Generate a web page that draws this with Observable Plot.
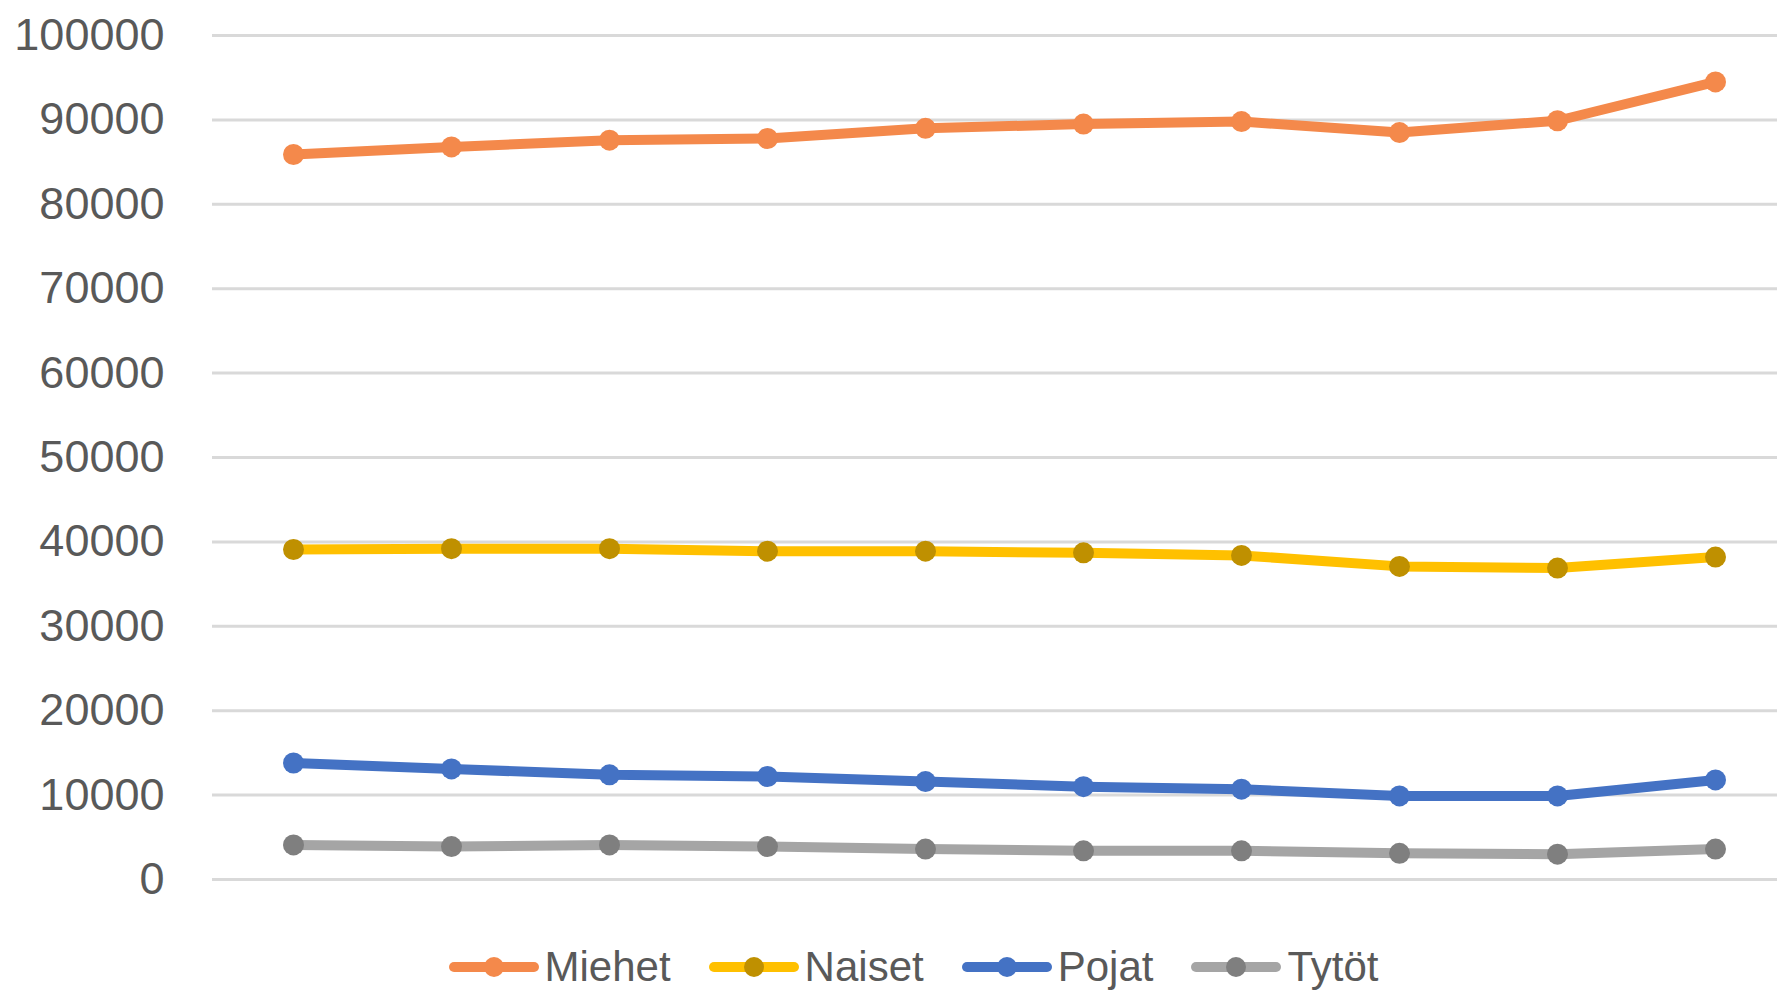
<!DOCTYPE html>
<html>
<head>
<meta charset="utf-8">
<script src="https://cdn.jsdelivr.net/npm/d3@7"></script>
<script src="https://cdn.jsdelivr.net/npm/@observablehq/plot@0.6"></script>
<style>
  html, body { margin: 0; padding: 0; background: #fff; }
  body { width: 1777px; height: 991px; overflow: hidden; font-family: "Liberation Sans", Arial, sans-serif; }
  #legend { display: flex; justify-content: center; align-items: center; height: 71px; padding-left: 88px; padding-top: 22px; box-sizing: border-box; }
  .item { display: flex; align-items: center; margin-right: 38px; }
  .item span { font-size: 42px; color: #595959; margin-left: 6px; }
</style>
</head>
<body>
<div id="chart"></div>
<div id="legend"></div>
<script>
const categories = ["2010","2011","2012","2013","2014","2015","2016","2017","2018","2019"];
const seriesNames = ["Miehet","Naiset","Pojat","Tytöt"];
const miehet = [85900, 86800, 87600, 87800, 89000, 89500, 89800, 88500, 89900, 94500];
const naiset = [39100, 39200, 39200, 38900, 38900, 38700, 38400, 37100, 36900, 38200];
const pojat  = [13800, 13100, 12400, 12200, 11600, 11000, 10700, 9900, 9900, 11800];
const tytot  = [4100, 3900, 4100, 3900, 3600, 3400, 3400, 3100, 3000, 3600];
const yTicks = [0,10000,20000,30000,40000,50000,60000,70000,80000,90000,100000];
const lineColors = ["#F4894B", "#FFC000", "#4472C4", "#A5A5A5"];
const dotColors  = ["#F4894B", "#BF9000", "#4472C4", "#7F7F7F"];

const valuesBySeries = [miehet, naiset, pojat, tytot];
const data = [];
seriesNames.forEach((s, i) => {
  categories.forEach((c, j) => data.push({series: s, cat: c, value: valuesBySeries[i][j]}));
});

const chart = Plot.plot({
  width: 1777,
  height: 920,
  marginTop: 35,
  marginBottom: 41,
  marginLeft: 212,
  marginRight: 0,
  x: {type: "point", domain: categories, range: [291, 1717], padding: 0, axis: null},
  y: {domain: [0, 100000], axis: null, label: null},
  color: {domain: seriesNames, range: lineColors},
  style: {fontFamily: "'Liberation Sans', Arial, sans-serif", background: "#fff", overflow: "visible"},
  marks: [
    Plot.ruleY(yTicks, {stroke: "#D9D9D9", strokeWidth: 3, strokeOpacity: 1}),
    Plot.axisY(yTicks, {tickSize: 0, tickPadding: 48, fontSize: 45, fill: "#595959", label: null, tickFormat: d => String(d)}),
    Plot.line(data, {x: "cat", y: "value", z: "series", stroke: "series", strokeWidth: 10, strokeLinejoin: "round", strokeLinecap: "round"}),
    Plot.dot(data, {x: "cat", y: "value", r: 10.5, fill: d => dotColors[seriesNames.indexOf(d.series)], stroke: "none"})
  ]
});
document.getElementById("chart").appendChild(chart);

const legend = document.getElementById("legend");
seriesNames.forEach((s, i) => {
  const item = document.createElement("div");
  item.className = "item";
  item.innerHTML = `<svg width="90" height="24" viewBox="0 0 90 24"><line x1="5" y1="12" x2="85" y2="12" stroke="${lineColors[i]}" stroke-width="10" stroke-linecap="round"/><circle cx="45" cy="12" r="10" fill="${dotColors[i]}"/></svg><span>${s}</span>`;
  legend.appendChild(item);
});
</script>
</body>
</html>
